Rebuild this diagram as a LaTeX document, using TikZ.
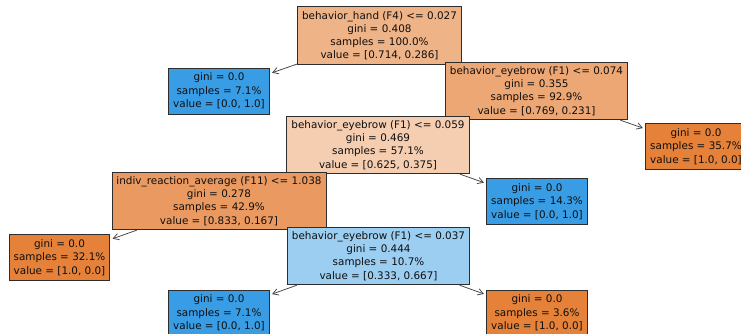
\documentclass[tikz,border=0pt]{standalone}
\usepackage{fontspec}
\setmainfont{DejaVu Sans}
\usetikzlibrary{arrows.meta}
\pgfdeclarelayer{bg}
\pgfsetlayers{bg,main}
\definecolor{cRoot}{RGB}{239,179,136}
\definecolor{cA}{RGB}{237,167,116}
\definecolor{cB}{RGB}{245,205,176}
\definecolor{cC}{RGB}{234,154,97}
\definecolor{cD}{RGB}{156,206,242}
\definecolor{cOr}{RGB}{229,129,57}
\definecolor{cBl}{RGB}{57,157,229}
\definecolor{edge}{RGB}{45,45,45}
\definecolor{txt}{RGB}{15,15,15}
\begin{document}
\begin{tikzpicture}[x=1pt,y=-1pt,
  box/.style={draw=edge,line width=0.9pt,align=center,inner xsep=4.5pt,inner ysep=0pt,
    text=txt,font=\fontsize{10.4}{13.3}\selectfont},
  inner/.style={box,minimum height=57.5pt},
  leaf/.style={box,minimum height=46pt,minimum width=100pt},
  arr/.style={draw=edge!90,line width=0.75pt,-{Straight Barb[length=5.5pt,width=6.5pt,line width=0.75pt]},shorten >=2.5pt}]
\useasboundingbox (0,0) rectangle (741,334);
\clip (0,0) rectangle (741,334);
\node[inner,fill=cRoot] (root) at (379.5,35.7) {behavior\_hand (F4) <= 0.027\\gini = 0.408\\samples = 100.0\%\\value = [0.714, 0.286]};
\node[leaf,fill=cBl] (l1) at (219,91) {gini = 0.0\\samples = 7.1\%\\value = [0.0, 1.0]};
\node[inner,fill=cA] (n074) at (536.5,91) {behavior\_eyebrow (F1) <= 0.074\\gini = 0.355\\samples = 92.9\%\\value = [0.769, 0.231]};
\node[leaf,fill=cOr] (l357) at (696,146.5) {gini = 0.0\\samples = 35.7\%\\value = [1.0, 0.0]};
\node[inner,fill=cB] (n059) at (378,145) {behavior\_eyebrow (F1) <= 0.059\\gini = 0.469\\samples = 57.1\%\\value = [0.625, 0.375]};
\node[leaf,fill=cBl] (l143) at (537,201.5) {gini = 0.0\\samples = 14.3\%\\value = [0.0, 1.0]};
\node[inner,fill=cC] (n11) at (219,201) {indiv\_reaction\_average (F11) <= 1.038\\gini = 0.278\\samples = 42.9\%\\value = [0.833, 0.167]};
\node[leaf,fill=cOr] (l321) at (59.5,257.5) {gini = 0.0\\samples = 32.1\%\\value = [1.0, 0.0]};
\node[inner,fill=cD] (n037) at (378.5,256) {behavior\_eyebrow (F1) <= 0.037\\gini = 0.444\\samples = 10.7\%\\value = [0.333, 0.667]};
\node[leaf,fill=cBl] (l71b) at (219,313) {gini = 0.0\\samples = 7.1\%\\value = [0.0, 1.0]};
\node[leaf,fill=cOr] (l36) at (537,313) {gini = 0.0\\samples = 3.6\%\\value = [1.0, 0.0]};
\begin{pgfonlayer}{bg}
\draw[arr] (root) -- (l1);
\draw[arr] (root.center) -- (n074.center);
\draw[arr] (n074.center) -- (n059.center);
\draw[arr] (n074) -- (l357);
\draw[arr] (n059.center) -- (n11.center);
\draw[arr] (n059) -- (l143);
\draw[arr] (n11) -- (l321);
\draw[arr] (n11.center) -- (n037.center);
\draw[arr] (n037) -- (l71b);
\draw[arr] (n037) -- (l36);
\end{pgfonlayer}
\end{tikzpicture}
\end{document}
